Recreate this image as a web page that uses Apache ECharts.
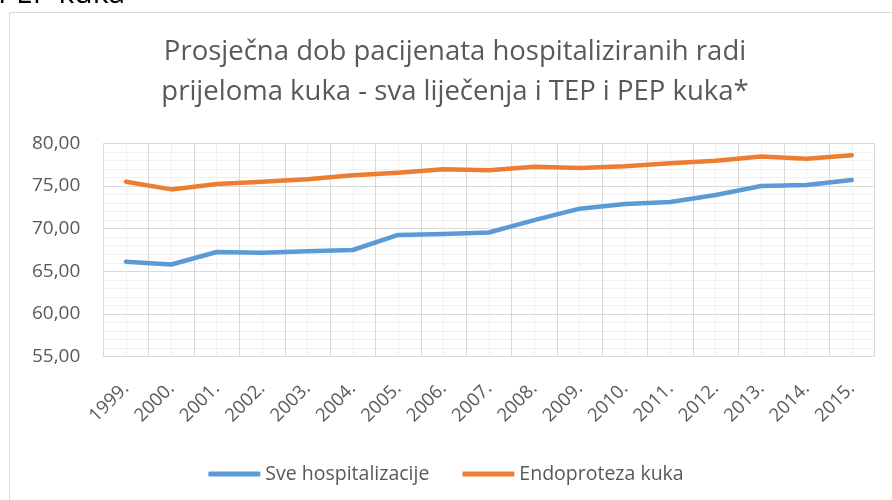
<!DOCTYPE html>
<html>
<head>
<meta charset="utf-8">
<script src="https://cdn.jsdelivr.net/npm/echarts@6/dist/echarts.min.js"></script>
<style>
  html, body { margin: 0; padding: 0; background: #ffffff; }
  #chart { width: 892px; height: 500px; }
</style>
</head>
<body>
<div id="chart"></div>
<script>
// Years on the category axis
const years = ['1999.', '2000.', '2001.', '2002.', '2003.', '2004.', '2005.', '2006.', '2007.',
  '2008.', '2009.', '2010.', '2011.', '2012.', '2013.', '2014.', '2015.'];

// Mean patient age, all hip-fracture hospitalisations
const sveHospitalizacije = [66.13, 65.80, 67.27, 67.19, 67.35, 67.50, 69.26, 69.37, 69.55,
  71.00, 72.34, 72.89, 73.12, 73.94, 75.00, 75.11, 75.70];

// Mean patient age, hip endoprosthesis (TEP and PEP)
const endoprotezaKuka = [75.50, 74.60, 75.22, 75.50, 75.80, 76.25, 76.55, 76.95, 76.85,
  77.25, 77.10, 77.30, 77.65, 77.95, 78.45, 78.20, 78.60];

const seriesNames = ['Sve hospitalizacije', 'Endoproteza kuka'];
const titleLines = ['Prosječna dob pacijenata hospitaliziranih radi',
  'prijeloma kuka - sva liječenja i TEP i PEP kuka*'];

const FONT = '"Open Sans", "Noto Sans", sans-serif';
const TEXT = '#595959';
const MAJOR = '#d9d9d9';
const MINOR = '#f0f0f0';

const chart = echarts.init(document.getElementById('chart'), null, { renderer: 'canvas' });

chart.setOption({
  animation: false,
  backgroundColor: '#ffffff',
  textStyle: { fontFamily: FONT },
  graphic: [
    // chart-area frame (runs past the right and bottom edges)
    {
      type: 'rect', z: -10, silent: true,
      shape: { x: 9.5, y: 12.5, width: 900, height: 500 },
      style: { fill: '#ffffff', stroke: MAJOR, lineWidth: 1 }
    },
    // caption text above the frame, clipped by the page top
    {
      type: 'text', x: -2, y: -6, z: 10,
      style: { text: 'PEP kuka', font: '30px ' + FONT, fill: '#000000', align: 'left', verticalAlign: 'middle' }
    },
    {
      type: 'text', x: 455, y: 52,
      style: { text: titleLines[0], font: '27.5px ' + FONT, fill: TEXT, align: 'center', verticalAlign: 'middle' }
    },
    {
      type: 'text', x: 455, y: 92,
      style: { text: titleLines[1], font: '27.5px ' + FONT, fill: TEXT, align: 'center', verticalAlign: 'middle' }
    }
  ],
  legend: {
    bottom: 11,
    left: 'center',
    itemWidth: 52,
    itemHeight: 5,
    itemGap: 33,
    icon: 'roundRect',
    textStyle: { color: TEXT, fontSize: 19.5, fontFamily: FONT },
    data: seriesNames
  },
  grid: { left: 103.3, right: 17.5, top: 143.3, bottom: 143.3, containLabel: false },
  xAxis: [
    {
      type: 'category',
      data: years,
      boundaryGap: true,
      axisLine: { show: true, lineStyle: { color: MAJOR, width: 1 } },
      axisTick: { show: false },
      splitLine: { show: true, lineStyle: { color: MAJOR, width: 1 } },
      axisLabel: { rotate: 45, color: TEXT, fontSize: 18.5, fontFamily: FONT, margin: 29, interval: 0 }
    },
    {
      // helper axis giving the light vertical lines at each year's centre
      type: 'value', min: 0, max: years.length, interval: 1,
      position: 'top', show: true,
      axisLine: { show: false }, axisTick: { show: false }, axisLabel: { show: false },
      splitLine: { show: false },
      minorTick: { show: false, splitNumber: 2 },
      minorSplitLine: { show: true, lineStyle: { color: MINOR, width: 1 } }
    }
  ],
  yAxis: {
    type: 'value',
    min: 55, max: 80, interval: 5,
    axisLine: { show: false },
    axisTick: { show: false },
    axisLabel: {
      color: TEXT, fontSize: 19, fontFamily: FONT, margin: 23,
      formatter: v => v.toFixed(2).replace('.', ',')
    },
    splitLine: { show: true, lineStyle: { color: MAJOR, width: 1 } },
    minorTick: { show: false, splitNumber: 5 },
    minorSplitLine: { show: true, lineStyle: { color: MINOR, width: 1 } }
  },
  series: [
    {
      name: seriesNames[0], type: 'line', data: sveHospitalizacije,
      xAxisIndex: 0, showSymbol: false, symbol: 'none',
      color: '#5b9bd5',
      lineStyle: { width: 4.5, color: '#5b9bd5', cap: 'round', join: 'round' }
    },
    {
      name: seriesNames[1], type: 'line', data: endoprotezaKuka,
      xAxisIndex: 0, showSymbol: false, symbol: 'none',
      color: '#ed7d31',
      lineStyle: { width: 4.5, color: '#ed7d31', cap: 'round', join: 'round' }
    }
  ]
});
</script>
</body>
</html>
